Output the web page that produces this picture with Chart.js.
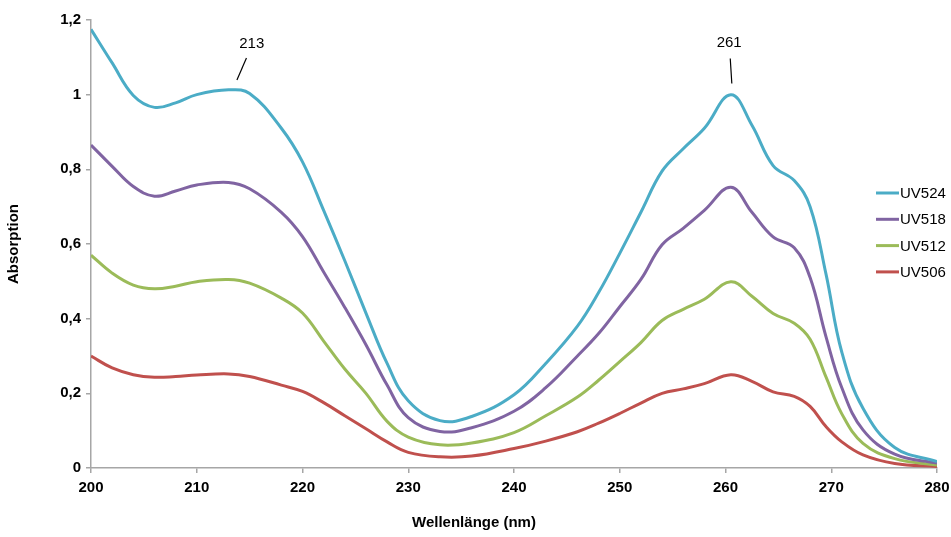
<!DOCTYPE html>
<html>
<head>
<meta charset="utf-8">
<script src="https://cdn.jsdelivr.net/npm/chart.js@4/dist/chart.umd.min.js"></script>
<style>
  html, body { margin: 0; padding: 0; background: #fff; }
  #wrap { width: 951px; height: 537px; position: relative; }
</style>
</head>
<body>
<div id="wrap"><canvas id="c" width="951" height="537"></canvas></div>
<script>
// Wavelengths (nm) shared by all spectra
const wavelengths = [200, 202, 204, 206, 208, 210, 213, 215, 218, 220, 222, 224, 226, 228, 230, 233, 236, 240, 243, 246, 248,
  250, 252, 254, 256, 258, 260.5, 262.5, 264.5, 266.5, 268, 269.5, 271, 273, 276, 280];

// Absorption spectra
const uv524 = [1.175, 1.085, 0.998, 0.966, 0.978, 1.0, 1.013, 1.003, 0.91, 0.82, 0.69, 0.555, 0.415, 0.28, 0.18, 0.127, 0.138, 0.196, 0.28, 0.38, 0.47,
  0.575, 0.685, 0.795, 0.855, 0.91, 1.0, 0.918, 0.81, 0.77, 0.70, 0.52, 0.31, 0.16, 0.055, 0.017];
const uv518 = [0.865, 0.808, 0.754, 0.728, 0.742, 0.758, 0.765, 0.748, 0.685, 0.62, 0.525, 0.43, 0.33, 0.222, 0.135, 0.098, 0.108, 0.152, 0.215, 0.30, 0.36,
  0.432, 0.505, 0.598, 0.642, 0.69, 0.752, 0.685, 0.619, 0.59, 0.51, 0.352, 0.215, 0.102, 0.037, 0.013];
const uv512 = [0.57, 0.522, 0.49, 0.48, 0.487, 0.499, 0.505, 0.495, 0.455, 0.415, 0.34, 0.265, 0.2, 0.125, 0.083, 0.062, 0.067, 0.095, 0.14, 0.19, 0.235,
  0.285, 0.336, 0.395, 0.425, 0.452, 0.499, 0.46, 0.414, 0.388, 0.345, 0.244, 0.145, 0.066, 0.025, 0.008];
const uv506 = [0.30, 0.268, 0.25, 0.243, 0.245, 0.249, 0.252, 0.245, 0.222, 0.205, 0.175, 0.14, 0.105, 0.07, 0.042, 0.03, 0.032, 0.052, 0.072, 0.097, 0.12,
  0.146, 0.174, 0.2, 0.212, 0.226, 0.25, 0.232, 0.204, 0.192, 0.165, 0.111, 0.07, 0.035, 0.012, 0.004];

const seriesNames = ['UV524', 'UV518', 'UV512', 'UV506'];
const seriesColors = ['#4BACC6', '#8064A2', '#9BBB59', '#C0504D'];

// Marked absorption maxima (nm) and their labels
const peakWavelengths = [213, 261];
const peakLabels = ['213', '261'];

const xTitle = 'Wellenlänge (nm)';
const yTitle = 'Absorption';

const seriesValues = [uv524, uv518, uv512, uv506];
const datasets = seriesValues.map((vals, i) => ({
  label: seriesNames[i],
  data: wavelengths.map((w, j) => ({ x: w, y: vals[j] })),
  borderColor: seriesColors[i],
  backgroundColor: seriesColors[i],
  borderWidth: 3,
  pointRadius: 0,
  fill: false,
  tension: 0.4
}));

const FONT = "'Liberation Sans', Arial, sans-serif";

// Legend drawn inside the plot, on the right
const sideLegend = {
  id: 'sideLegend',
  afterDraw(chart) {
    const ctx = chart.ctx;
    const area = chart.chartArea;
    const x0 = area.right - 61;
    const y0 = 193;
    ctx.save();
    ctx.font = '15px ' + FONT;
    ctx.textBaseline = 'middle';
    chart.data.datasets.forEach((ds, i) => {
      const y = y0 + i * 26.3;
      ctx.strokeStyle = ds.borderColor;
      ctx.lineWidth = 3;
      ctx.beginPath();
      ctx.moveTo(x0, y);
      ctx.lineTo(x0 + 23, y);
      ctx.stroke();
      ctx.fillStyle = '#000';
      ctx.fillText(ds.label, x0 + 24, y + 1);
    });
    ctx.restore();
  }
};

// X axis title, centred under the curves (legend column excluded)
const bottomTitle = {
  id: 'bottomTitle',
  afterDraw(chart) {
    const ctx = chart.ctx;
    const area = chart.chartArea;
    ctx.save();
    ctx.font = 'bold 15px ' + FONT;
    ctx.fillStyle = '#000';
    ctx.textAlign = 'center';
    ctx.textBaseline = 'middle';
    ctx.fillText(xTitle, (area.left + area.right) / 2 - 40, chart.height - 14);
    ctx.restore();
  }
};

// Peak markers: label above a short leader line
const peakMarkers = {
  id: 'peakMarkers',
  afterDatasetsDraw(chart) {
    const ctx = chart.ctx;
    const xs = chart.scales.x, ys = chart.scales.y;
    const leaders = [
      { from: [0.8, 1.039], to: [1.7, 1.098], text: [2.2, 1.135] },
      { from: [-0.4, 1.03], to: [-0.55, 1.097], text: [-0.65, 1.138] }
    ];
    ctx.save();
    ctx.strokeStyle = '#000';
    ctx.lineWidth = 1.2;
    ctx.fillStyle = '#000';
    ctx.font = '15px ' + FONT;
    ctx.textAlign = 'center';
    ctx.textBaseline = 'middle';
    peakWavelengths.forEach((w, i) => {
      const l = leaders[i];
      ctx.beginPath();
      ctx.moveTo(xs.getPixelForValue(w + l.from[0]), ys.getPixelForValue(l.from[1]));
      ctx.lineTo(xs.getPixelForValue(w + l.to[0]), ys.getPixelForValue(l.to[1]));
      ctx.stroke();
      ctx.fillText(peakLabels[i], xs.getPixelForValue(w + l.text[0]), ys.getPixelForValue(l.text[1]));
    });
    ctx.restore();
  }
};

new Chart(document.getElementById('c'), {
  type: 'line',
  data: { datasets },
  plugins: [sideLegend, bottomTitle, peakMarkers],
  options: {
    responsive: false,
    animation: false,
    events: [],
    layout: { padding: { top: 20, right: 14, left: 0, bottom: 0 } },
    plugins: { legend: { display: false }, tooltip: { enabled: false } },
    scales: {
      x: {
        type: 'linear',
        min: 200,
        max: 280,
        afterFit(scale) { scale.height = 69; scale.paddingRight = 0; scale.paddingLeft = 0; },
        ticks: {
          stepSize: 10,
          padding: 6,
          color: '#000',
          font: { family: FONT, size: 15, weight: 'bold' },
          maxRotation: 0
        },
        grid: { drawOnChartArea: false, drawTicks: true, tickLength: 5, color: '#A6A6A6', lineWidth: 1.5 },
        border: { color: '#A6A6A6', width: 1.5 },
        title: { display: false }
      },
      y: {
        min: 0,
        max: 1.2,
        afterFit(scale) { scale.width = 91; scale.paddingTop = 0; scale.paddingBottom = 0; },
        ticks: {
          stepSize: 0.2,
          padding: 5,
          color: '#000',
          font: { family: FONT, size: 15, weight: 'bold' },
          callback: (v) => (Math.round(v * 10) / 10).toString().replace('.', ',')
        },
        grid: { drawOnChartArea: false, drawTicks: true, tickLength: 5, color: '#A6A6A6', lineWidth: 1.5 },
        border: { color: '#A6A6A6', width: 1.5 },
        title: {
          display: true,
          text: yTitle,
          color: '#000',
          font: { family: FONT, size: 15, weight: 'bold' },
          padding: { top: 5, bottom: 0 }
        }
      }
    }
  }
});
</script>
</body>
</html>
